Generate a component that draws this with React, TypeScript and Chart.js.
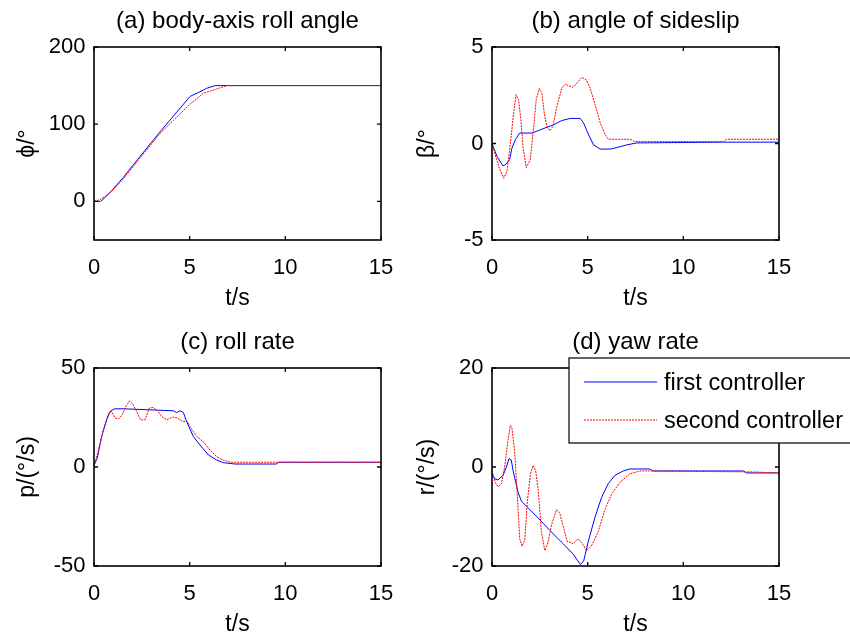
import React, { useEffect, useRef } from 'react';
import { Chart, registerables } from 'chart.js';

Chart.register(...registerables);

const FONT = "'Liberation Sans', Arial, Helvetica, sans-serif";

// shared
const timeTicks = [0, 5, 10, 15];
const seriesNames = ['first controller', 'second controller'];

// (a) body-axis roll angle
const phiFirstT = [0, 0.35, 0.66, 1.0, 1.53, 2.4, 3.45, 4.2, 5.02, 5.54, 5.89, 6.33, 15];
const phiFirstV = [0, 0, 7, 16, 31, 58, 90, 112, 136, 142, 146.5, 150, 150];
const phiSecondT = [0, 0.3, 0.66, 1.0, 1.53, 2.4, 3.45, 4.15, 5.02, 5.71, 6.41, 6.94, 15];
const phiSecondV = [0, 2, 8, 15, 29, 56, 88, 105, 126, 140, 145.6, 150, 150];
const phiTicks = [0, 100, 200];

// (b) angle of sideslip
const betaFirstT = [0, 0.26, 0.57, 0.7, 0.92, 1.04, 1.22, 1.44, 2.09, 2.52, 3.22, 3.65, 4.09, 4.61, 4.79, 5.05, 5.31, 5.66, 6.18, 6.53, 7.05, 7.57, 12.09, 15];
const betaFirstV = [0, -0.67, -1.16, -1.1, -0.85, -0.24, 0.19, 0.54, 0.54, 0.71, 0.97, 1.19, 1.3, 1.3, 1.06, 0.45, -0.07, -0.29, -0.29, -0.21, -0.07, 0.03, 0.07, 0.07];
const betaSecondT = [0, 0.35, 0.61, 0.78, 0.96, 1.13, 1.25, 1.39, 1.51, 1.62, 1.79, 2.0, 2.18, 2.31, 2.47, 2.61, 2.73, 2.87, 3.01, 3.18, 3.39, 3.65, 3.83, 4.0, 4.23, 4.44, 4.7, 4.92, 5.13, 5.39, 5.66, 5.92, 6.09, 7.22, 7.48, 12.09, 12.27, 15];
const betaSecondV = [0, -1.19, -1.8, -1.45, 0, 1.57, 2.53, 2.27, 1.23, -0.16, -1.25, -0.85, 0.88, 2.27, 2.85, 2.61, 1.57, 0.88, 0.66, 0.88, 1.92, 2.87, 3.08, 2.99, 2.91, 3.13, 3.43, 3.3, 2.87, 2.0, 1.06, 0.45, 0.22, 0.22, 0.1, 0.1, 0.22, 0.22];
const betaTicks = [-5, 0, 5];

// (c) roll rate
const pFirstT = [0, 0.17, 0.4, 0.66, 0.84, 0.98, 1.1, 1.53, 4.15, 4.32, 4.5, 4.67, 4.84, 5.19, 5.54, 5.98, 6.41, 6.76, 7.37, 9.55, 9.63, 15];
const pFirstV = [1.0, 4.4, 15.4, 23.8, 28, 28.9, 29.4, 29.4, 28.4, 27.5, 28.4, 27.5, 23, 15.4, 11.1, 6.1, 3.5, 2.2, 1.5, 1.5, 2.4, 2.4];
const pSecondT = [0, 0.23, 0.49, 0.75, 0.92, 1.1, 1.27, 1.48, 1.62, 1.85, 2.02, 2.23, 2.44, 2.67, 2.89, 3.1, 3.28, 3.54, 3.8, 4.11, 4.36, 4.63, 4.88, 5.02, 5.37, 5.71, 6.06, 6.41, 6.76, 7.11, 7.46, 15];
const pSecondV = [0.2, 8.6, 18.8, 26.9, 28, 24.7, 24.2, 26.4, 29.7, 33.4, 31.9, 28, 23.8, 23.8, 29.7, 30.1, 28.9, 25.5, 23.8, 25.2, 24.7, 23, 23, 20.4, 15.4, 12.8, 8.6, 5.2, 3.5, 2.5, 2.4, 2.4];
const pTicks = [-50, 0, 50];

// (d) yaw rate
const rFirstT = [0, 0.14, 0.31, 0.58, 0.75, 0.89, 1.01, 1.1, 1.24, 1.37, 1.54, 2.41, 3.02, 3.72, 4.24, 4.62, 4.79, 5.02, 5.37, 5.72, 6.07, 6.42, 6.86, 7.2, 8.25, 8.42, 13.13, 13.3, 15];
const rFirstV = [-1.4, -2.4, -2.6, -1.7, 0, 1.7, 1.4, -0.7, -3.1, -5.2, -6.9, -10.3, -12.8, -15.5, -17.6, -19.7, -19, -15.2, -10.3, -6.2, -3.4, -1.7, -0.8, -0.4, -0.4, -0.8, -0.8, -1.2, -1.2];
const rSecondT = [0, 0.17, 0.31, 0.49, 0.66, 0.84, 0.96, 1.05, 1.19, 1.31, 1.45, 1.57, 1.71, 1.85, 2.01, 2.15, 2.28, 2.42, 2.58, 2.76, 2.93, 3.11, 3.37, 3.54, 3.75, 3.92, 4.24, 4.5, 4.73, 4.94, 5.2, 5.55, 5.9, 6.25, 6.68, 7.2, 7.73, 8.25, 13.66, 15];
const rSecondV = [-0.7, -3.1, -4.0, -3.4, 0, 5.5, 8.4, 7.7, 2.8, -4.8, -14.5, -16, -14.8, -6.9, -1.4, 0.3, -0.7, -4.8, -13.1, -16.9, -15.2, -11.7, -8.6, -9.3, -12.4, -15, -15.5, -14.5, -15.5, -16.9, -15.9, -13.1, -8.6, -5.5, -3.1, -1.4, -0.8, -0.8, -1.0, -1.2];
const rTicks = [-20, 0, 20];

const toPts = (t: number[], v: number[]) => t.map((x, i) => ({ x, y: v[i] }));

type Panel = {
  title: string;
  yTitle: string;
  yMin: number;
  yMax: number;
  yTicks: number[];
  first: { x: number; y: number }[];
  second: { x: number; y: number }[];
  box: { l: number; t: number; r: number; b: number };
  yTitleX: number;
  legend?: { x: number; y: number; w: number; h: number };
};

const panels: Panel[] = [
  {
    title: '(a) body-axis roll angle', yTitle: 'ϕ/°', yMin: -50, yMax: 200, yTicks: phiTicks,
    first: toPts(phiFirstT, phiFirstV), second: toPts(phiSecondT, phiSecondV),
    box: { l: 94, t: 47, r: 381, b: 240 }, yTitleX: 28,
  },
  {
    title: '(b) angle of sideslip', yTitle: 'β/°', yMin: -5, yMax: 5, yTicks: betaTicks,
    first: toPts(betaFirstT, betaFirstV), second: toPts(betaSecondT, betaSecondV),
    box: { l: 492, t: 47, r: 779, b: 240 }, yTitleX: 428,
  },
  {
    title: '(c) roll rate', yTitle: 'p/(°/s)', yMin: -50, yMax: 50, yTicks: pTicks,
    first: toPts(pFirstT, pFirstV), second: toPts(pSecondT, pSecondV),
    box: { l: 94, t: 368, r: 381, b: 566 }, yTitleX: 28,
  },
  {
    title: '(d) yaw rate', yTitle: 'r/(°/s)', yMin: -20, yMax: 20, yTicks: rTicks,
    first: toPts(rFirstT, rFirstV), second: toPts(rSecondT, rSecondV),
    box: { l: 492, t: 368, r: 779, b: 566 }, yTitleX: 428,
    legend: { x: 569, y: 358, w: 283, h: 85 },
  },
];

const W = 850;
const H = 641;
const FS = 22;
const TFS = 24;
const LFS = 23.5;
const LH = 23 * 1.2;

const matlabPlugin = {
  id: 'matlabBox',
  afterDraw(chart: any, _args: any, opts: any) {
    const { ctx, chartArea: a } = chart;
    const xs = chart.scales.x;
    const ys = chart.scales.y;
    ctx.save();
    ctx.strokeStyle = '#000';
    ctx.lineWidth = 1.6;
    ctx.strokeRect(a.left, a.top, a.right - a.left, a.bottom - a.top);
    ctx.lineWidth = 1.3;
    ctx.beginPath();
    const tl = 4;
    xs.ticks.forEach((tk: any) => {
      const px = xs.getPixelForValue(tk.value);
      ctx.moveTo(px, a.bottom); ctx.lineTo(px, a.bottom - tl);
      ctx.moveTo(px, a.top); ctx.lineTo(px, a.top + tl);
    });
    ys.ticks.forEach((tk: any) => {
      const py = ys.getPixelForValue(tk.value);
      ctx.moveTo(a.left, py); ctx.lineTo(a.left + tl, py);
      ctx.moveTo(a.right, py); ctx.lineTo(a.right - tl, py);
    });
    ctx.stroke();

    ctx.fillStyle = '#000';
    ctx.font = `${TFS}px ${FONT}`;
    ctx.textAlign = 'center';
    ctx.textBaseline = 'middle';
    ctx.fillText(opts.title, (a.left + a.right) / 2, a.top - 26);

    if (opts.legend) {
      const L = opts.legend;
      ctx.fillStyle = '#fff';
      ctx.fillRect(L.x, L.y, L.w, L.h);
      ctx.strokeStyle = '#000';
      ctx.lineWidth = 1.2;
      ctx.strokeRect(L.x, L.y, L.w, L.h);
      const rows = [L.y + 24, L.y + 62];
      ctx.font = `${LFS}px ${FONT}`;
      chart.data.datasets.forEach((ds: any, i: number) => {
        ctx.strokeStyle = ds.borderColor;
        ctx.lineWidth = 1;
        ctx.setLineDash(ds.borderDash || []);
        ctx.beginPath();
        ctx.moveTo(L.x + 15, rows[i]);
        ctx.lineTo(L.x + 88, rows[i]);
        ctx.stroke();
        ctx.setLineDash([]);
        ctx.fillStyle = '#000';
        ctx.textAlign = 'left';
        ctx.textBaseline = 'middle';
        ctx.fillText(ds.label, L.x + 95, rows[i] + 2);
      });
    }
    ctx.restore();
  },
};

function PanelChart({ p }: { p: Panel }) {
  const ref = useRef<HTMLCanvasElement>(null);
  useEffect(() => {
    if (!ref.current) return;
    const yAxisW = p.box.l - (p.yTitleX - LH / 2);
    const xTitleCenter = p.box.b + 59;
    const xAxisH = xTitleCenter + LH / 2 - p.box.b;
    const chart = new Chart(ref.current, {
      type: 'line',
      data: {
        datasets: [
          {
            label: seriesNames[0], data: p.first, borderColor: '#0000ff', borderWidth: 1,
            pointRadius: 0, tension: 0, fill: false, order: 1,
          },
          {
            label: seriesNames[1], data: p.second, borderColor: '#ff0000', borderWidth: 1,
            borderDash: [2, 1], pointRadius: 0, tension: 0, fill: false, order: 0,
          },
        ],
      },
      options: {
        responsive: false,
        animation: false,
        events: [],
        layout: {
          padding: {
            left: p.box.l - yAxisW,
            top: p.box.t,
            right: W - p.box.r,
            bottom: H - p.box.b - xAxisH,
          },
        },
        plugins: {
          legend: { display: false },
          tooltip: { enabled: false },
          title: { display: false },
          matlabBox: { title: p.title, legend: p.legend },
        } as any,
        scales: {
          x: {
            type: 'linear', min: 0, max: 15,
            grid: { display: false, drawTicks: false },
            border: { display: false },
            afterBuildTicks: (s: any) => { s.ticks = timeTicks.map((v) => ({ value: v })); },
            afterFit: (s: any) => { s.height = xAxisH; },
            ticks: { color: '#000', font: { family: FONT, size: FS }, padding: 14.5, maxRotation: 0, autoSkip: false },
            title: { display: true, text: 't/s', color: '#000', font: { family: FONT, size: 23 }, padding: 0 },
          },
          y: {
            type: 'linear', min: p.yMin, max: p.yMax,
            grid: { display: false, drawTicks: false },
            border: { display: false },
            afterBuildTicks: (s: any) => { s.ticks = p.yTicks.map((v) => ({ value: v })); },
            afterFit: (s: any) => { s.width = yAxisW; },
            ticks: { color: '#000', font: { family: FONT, size: FS }, padding: 8.5, autoSkip: false },
            title: { display: true, text: p.yTitle, color: '#000', font: { family: FONT, size: 23 }, padding: 0 },
          },
        },
      },
      plugins: [matlabPlugin as any],
    });
    return () => chart.destroy();
  }, [p]);
  return (
    <canvas
      ref={ref}
      width={W}
      height={H}
      style={{ position: 'absolute', left: 0, top: 0, width: W, height: H }}
    />
  );
}

export default function App() {
  return (
    <div style={{ position: 'absolute', left: 0, top: 0, width: W, height: H, background: '#fff', overflow: 'hidden' }}>
      {panels.map((p, i) => (
        <PanelChart key={i} p={p} />
      ))}
    </div>
  );
}
